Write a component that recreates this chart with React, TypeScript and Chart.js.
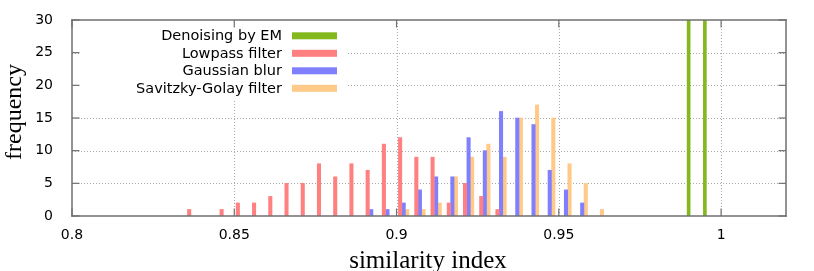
import React, { useEffect, useRef } from "react";
import { Chart, registerables } from "chart.js";

Chart.register(...registerables);

// ---- data ----
const bins = [0.835, 0.84, 0.845, 0.85, 0.855, 0.86, 0.865, 0.87, 0.875, 0.88, 0.885, 0.89, 0.895, 0.9, 0.905, 0.91, 0.915, 0.92, 0.925, 0.93, 0.935, 0.94, 0.945, 0.95, 0.955, 0.96];
const lowpass = [1, 0, 1, 2, 2, 3, 5, 5, 8, 6, 8, 7, 11, 12, 9, 9, 2, 5, 3, 1, 0, 0, 0, 0, 0, 0];
const gaussian = [0, 0, 0, 0, 0, 0, 0, 0, 0, 0, 0, 1, 1, 2, 4, 6, 6, 12, 10, 16, 15, 14, 7, 4, 2, 0];
const savgol = [0, 0, 0, 0, 0, 0, 0, 0, 0, 0, 0, 0, 0, 1, 1, 2, 6, 9, 11, 9, 15, 17, 15, 8, 5, 1];
const emBins = [0.99, 0.995];
const emCounts = [60, 60];

const seriesNames = ["Denoising by EM", "Lowpass filter", "Gaussian blur", "Savitzky-Golay filter"];
const seriesColors = ["#84b81f", "#ff8080", "#8080ff", "#ffc987"];

const xTicks = [0.8, 0.85, 0.9, 0.95, 1.0];
const xTickLabels = ["0.8", "0.85", "0.9", "0.95", "1"];
const yTicks = [0, 5, 10, 15, 20, 25, 30];

const X_MIN = 0.8;
const X_MAX = 1.02;
const Y_MIN = 0;
const Y_MAX = 30;

const SLOT = 0.0011; // horizontal shift between series within a bin

function toPoints(xs: number[], ys: number[], shift: number) {
  const out: { x: number; y: number }[] = [];
  xs.forEach((x, i) => {
    if (ys[i] > 0) out.push({ x: x + shift, y: ys[i] });
  });
  return out;
}

const SANS = '"DejaVu Sans", sans-serif';
const SERIF = '"Liberation Serif", "Times New Roman", serif';

const decorPlugin = {
  id: "decor",
  beforeDatasetsDraw(chart: any) {
    const { ctx, chartArea: a, scales } = chart;
    const xs = scales.x;
    const ys = scales.y;
    ctx.save();
    ctx.strokeStyle = "#a8a8a8";
    ctx.lineWidth = 1;
    ctx.setLineDash([1, 2]);
    yTicks.forEach((v) => {
      if (v === Y_MIN || v === Y_MAX) return;
      const y = Math.round(ys.getPixelForValue(v)) + 0.5;
      ctx.beginPath();
      ctx.moveTo(a.left, y);
      ctx.lineTo(a.right, y);
      ctx.stroke();
    });
    xTicks.forEach((v) => {
      if (v === X_MIN) return;
      const x = Math.round(xs.getPixelForValue(v)) + 0.5;
      ctx.beginPath();
      ctx.moveTo(x, a.top);
      ctx.lineTo(x, a.bottom);
      ctx.stroke();
    });
    ctx.setLineDash([]);
    // opaque key box
    ctx.fillStyle = "#ffffff";
    ctx.fillRect(a.left + 8, a.top + 2, 346 - a.left - 8, 77);
    ctx.restore();
  },
  afterDraw(chart: any) {
    const { ctx, chartArea: a, scales } = chart;
    const xs = scales.x;
    const ys = scales.y;
    ctx.save();
    ctx.setLineDash([]);
    // frame
    ctx.fillStyle = "#707070";
    const w = 1.5;
    ctx.fillRect(a.left - w / 2, a.top - w / 2, a.right - a.left + w, w);
    ctx.fillRect(a.left - w / 2, a.bottom - w / 2, a.right - a.left + w, w);
    ctx.fillRect(a.left - w / 2, a.top - w / 2, w, a.bottom - a.top + w);
    ctx.fillRect(a.right - w / 2, a.top - w / 2, w, a.bottom - a.top + w);
    // inward tick marks on all four sides
    const tl = 7.5;
    const tw = 1.2;
    yTicks.forEach((v) => {
      const y = ys.getPixelForValue(v);
      ctx.fillRect(a.left, y - tw / 2, tl, tw);
      ctx.fillRect(a.right - tl, y - tw / 2, tl, tw);
    });
    xTicks.forEach((v) => {
      const x = xs.getPixelForValue(v);
      ctx.fillRect(x - tw / 2, a.bottom - tl, tw, tl);
      ctx.fillRect(x - tw / 2, a.top, tw, tl);
    });
    // legend
    ctx.font = "14.5px " + SANS;
    ctx.textAlign = "right";
    ctx.textBaseline = "middle";
    const rowY0 = a.top + 15.8;
    const rowStep = 17.5;
    seriesNames.forEach((name, i) => {
      const y = rowY0 + i * rowStep;
      ctx.fillStyle = "#000";
      ctx.fillText(name, 282, y + 0.5);
      ctx.fillStyle = seriesColors[i];
      ctx.fillRect(292, y - 3.5, 45, 7);
    });
    // axis titles
    ctx.fillStyle = "#000";
    ctx.textAlign = "center";
    ctx.textBaseline = "alphabetic";
    ctx.font = "25px " + SERIF;
    ctx.fillText("similarity index", (a.left + a.right) / 2 - 1, 268);
    ctx.font = "24px " + SERIF;
    ctx.save();
    ctx.translate(21, 112);
    ctx.rotate(-Math.PI / 2);
    ctx.fillText("frequency", 0, 0);
    ctx.restore();
    ctx.restore();
  },
};

export default function App() {
  const ref = useRef<HTMLCanvasElement | null>(null);

  useEffect(() => {
    document.body.style.margin = "0";
    const canvas = ref.current;
    if (!canvas) return;
    const barCommon = { barThickness: 3.4, borderWidth: 0, grouped: false };
    const chart = new Chart(canvas, {
      type: "bar",
      data: {
        datasets: [
          { label: seriesNames[0], data: toPoints(emBins, emCounts, 0), backgroundColor: seriesColors[0], ...barCommon, barThickness: 3 },
          { label: seriesNames[1], data: toPoints(bins, lowpass, SLOT), backgroundColor: seriesColors[1], ...barCommon },
          { label: seriesNames[2], data: toPoints(bins, gaussian, SLOT * 2), backgroundColor: seriesColors[2], ...barCommon },
          { label: seriesNames[3], data: toPoints(bins, savgol, SLOT * 3), backgroundColor: seriesColors[3], ...barCommon },
        ] as any,
      },
      options: {
        animation: false,
        responsive: false,
        maintainAspectRatio: false,
        devicePixelRatio: 1,
        layout: { padding: { top: 20, right: 28, left: 0, bottom: 0 } },
        plugins: { legend: { display: false }, tooltip: { enabled: false }, title: { display: false } },
        scales: {
          x: {
            type: "linear",
            min: X_MIN,
            max: X_MAX,
            offset: false,
            grid: { display: false },
            border: { display: false },
            afterBuildTicks: (s: any) => {
              s.ticks = xTicks.map((v) => ({ value: v }));
            },
            afterFit: (s: any) => {
              s.height = 55;
            },
            ticks: {
              autoSkip: false,
              maxRotation: 0,
              padding: 3,
              color: "#000",
              font: { family: SANS, size: 14 },
              callback: (v: any) => {
                const idx = xTicks.findIndex((t) => Math.abs(t - Number(v)) < 1e-9);
                return idx >= 0 ? xTickLabels[idx] : "";
              },
            },
          },
          y: {
            type: "linear",
            min: Y_MIN,
            max: Y_MAX,
            grid: { display: false },
            border: { display: false },
            afterBuildTicks: (s: any) => {
              s.ticks = yTicks.map((v) => ({ value: v }));
            },
            afterFit: (s: any) => {
              s.width = 72;
            },
            ticks: {
              padding: 11,
              color: "#000",
              font: { family: SANS, size: 14 },
            },
          },
        },
      } as any,
      plugins: [decorPlugin],
    });
    return () => chart.destroy();
  }, []);

  return (
    <div style={{ position: "fixed", left: 0, top: 0, width: 814, height: 271, background: "#fff" }}>
      <canvas ref={ref} width={814} height={271} style={{ width: 814, height: 271, display: "block" }} />
    </div>
  );
}
